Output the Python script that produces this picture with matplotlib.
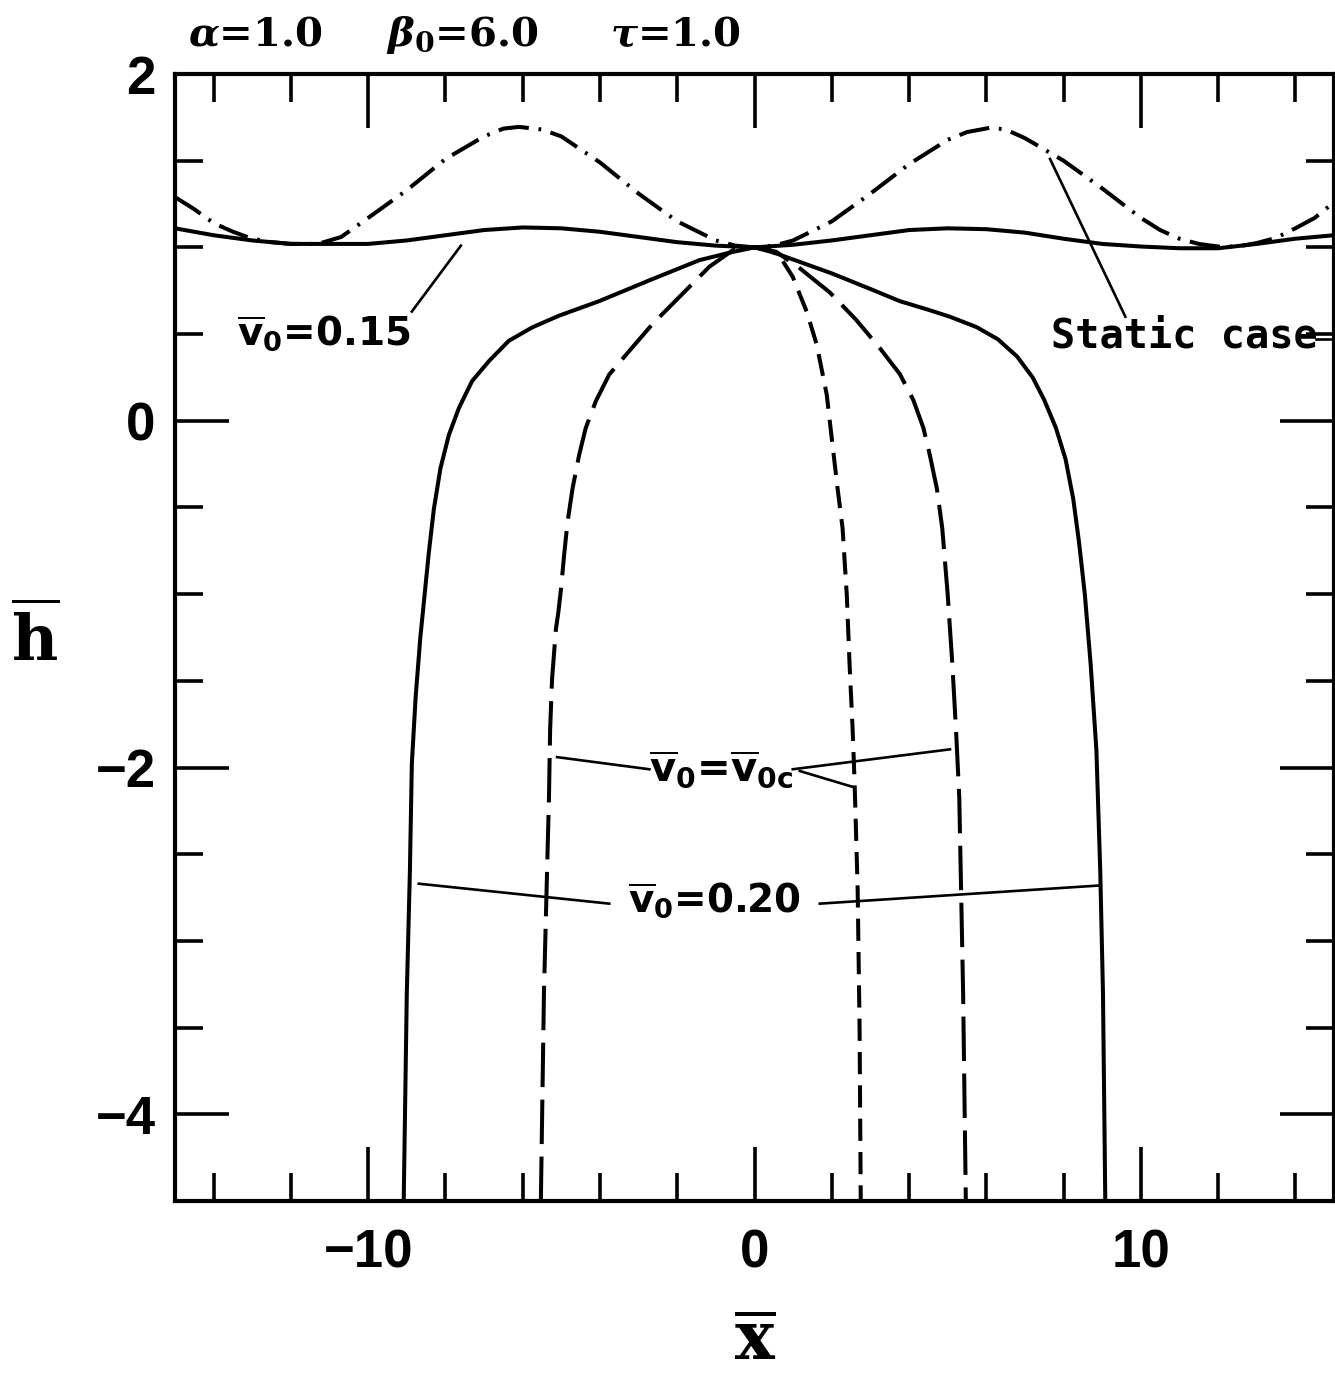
import numpy as np
import matplotlib
matplotlib.use("Agg")
import matplotlib.pyplot as plt
from matplotlib.ticker import MultipleLocator

plt.rcParams['lines.scale_dashes'] = False
plt.rcParams['font.family'] = ['DejaVu Sans']
plt.rcParams['font.weight'] = 'bold'

# ---- profiles h(x) read off the solutions
# static case (dash-dot)
static_x = [-15, -14.5, -14, -13.5, -13, -12.5, -12, -11.3, -10.7, -10, -9, -8, -7, -6.5, -6.1, -5.5, -5, -4,
            -3, -2, -1, -0.5, 0, 0.5, 1, 2, 3, 4, 5, 5.5, 6.1, 6.5, 7, 8, 9, 10, 10.5, 11, 11.5, 12, 12.5, 13,
            13.5, 14, 14.5, 15]
static_y = [1.29, 1.22, 1.14, 1.09, 1.05, 1.03, 1.02, 1.02, 1.06, 1.17, 1.33, 1.51, 1.64, 1.685, 1.695, 1.68,
            1.64, 1.49, 1.31, 1.15, 1.04, 1.01, 1.0, 1.01, 1.04, 1.15, 1.31, 1.48, 1.62, 1.665, 1.69, 1.68,
            1.63, 1.50, 1.34, 1.17, 1.10, 1.05, 1.02, 1.005, 1.005, 1.025, 1.055, 1.11, 1.17, 1.26]

# v0 = 0.15 (solid, nearly flat)
v015_x = list(range(-15, 16))
v015_y = [1.11, 1.07, 1.04, 1.02, 1.02, 1.02, 1.04, 1.07, 1.10, 1.115, 1.11, 1.09, 1.06, 1.03, 1.01, 1.0,
          1.015, 1.04, 1.07, 1.10, 1.11, 1.105, 1.085, 1.05, 1.02, 1.005, 0.995, 0.995, 1.02, 1.05, 1.07]

# v0 = 0.20 (solid)
v020_x = [-9.08, -9.0, -8.92, -8.87, -8.77, -8.65, -8.56, -8.43, -8.30, -8.13, -7.91, -7.65, -7.31, -6.87,
          -6.36, -5.75, -5.06, -4.02, -2.72, -1.43, -0.6, 0,
          0.5, 1.0, 2.0, 3.0, 3.76, 4.5, 5.06, 5.75, 6.3, 6.8, 7.2, 7.5, 7.8, 8.05, 8.25, 8.4, 8.55, 8.7,
          8.85, 8.95, 9.02, 9.08]
v020_y = [-4.5, -3.3, -2.6, -1.98, -1.59, -1.25, -1.05, -0.76, -0.51, -0.275, -0.081, 0.074, 0.229, 0.345,
          0.461, 0.539, 0.606, 0.69, 0.81, 0.926, 0.972, 1.0,
          0.97, 0.93, 0.85, 0.76, 0.69, 0.64, 0.60, 0.54, 0.47, 0.37, 0.25, 0.12, -0.04, -0.22, -0.45, -0.7,
          -1.0, -1.4, -1.9, -2.6, -3.3, -4.5]

# v0 = v0c, symmetric branch (long dashes)
v0c_x = [-5.53, -5.45, -5.32, -5.29, -5.24, -5.14, -5.08, -5.01, -4.93, -4.84, -4.71, -4.54, -4.37, -4.11,
         -3.76, -3.24, -2.64, -1.95, -1.17, -0.56, 0,
         0.56, 1.17, 1.95, 2.64, 3.24, 3.76, 4.11, 4.37, 4.54, 4.72, 4.86, 5.0, 5.12, 5.22, 5.3, 5.4, 5.47]
v0c_y = [-4.5, -3.3, -2.17, -1.78, -1.49, -1.20, -1.109, -0.973, -0.779, -0.585, -0.391, -0.198, -0.043,
         0.112, 0.267, 0.403, 0.558, 0.713, 0.888, 0.984, 1.0,
         0.975, 0.88, 0.74, 0.58, 0.42, 0.27, 0.12, -0.04, -0.2, -0.39, -0.62, -1.0, -1.4, -1.8, -2.17,
         -3.3, -4.5]

# v0 = v0c, one-sided branch (short dashes)
v0c_b_x = [0, 0.35, 0.65, 0.99, 1.35, 1.61, 1.87, 2.02, 2.15, 2.28, 2.39, 2.46, 2.54, 2.59, 2.67, 2.72, 2.75]
v0c_b_y = [1.0, 0.99, 0.95, 0.83, 0.63, 0.44, 0.15, -0.14, -0.39, -0.62, -1.01, -1.40, -1.78, -2.08,
           -2.7, -3.5, -4.5]

fig = plt.figure(figsize=(13.35, 13.74), dpi=100)
ax = fig.add_axes([175/1335, 1 - 1201/1374, (1334-175)/1335, (1201-74)/1374])

lw = 2.9
ax.plot(static_x, static_y, color='k', lw=lw, dashes=[22, 7, 2, 7])
ax.plot(v015_x, v015_y, color='k', lw=lw)
ax.plot(v020_x, v020_y, color='k', lw=lw)
ax.plot(v0c_x, v0c_y, color='k', lw=lw, dashes=[32, 9])
ax.plot(v0c_b_x, v0c_b_y, color='k', lw=lw, dashes=[16, 8])

# leader lines for the labels
leaders = [((-8.87, -7.6), (0.63, 1.01)),
           ((9.6, 7.65), (0.60, 1.51)),
           ((14.53, 15.0), (0.47, 0.47)),
           ((-5.11, -2.72), (-1.94, -2.01)),
           ((0.99, 5.06), (-2.01, -1.895)),
           ((1.17, 2.52), (-2.02, -2.11)),
           ((-8.69, -3.76), (-2.67, -2.785)),
           ((1.69, 8.95), (-2.785, -2.68))]
for lx, ly in leaders:
    ax.plot(lx, ly, color='k', lw=1.9)

v0 = r'$\overline{\mathbf{v}}_{\mathbf{0}}$'
ax.text(-11.15, 0.50, v0 + '=0.15', fontsize=28, ha='center', va='center')
ax.text(11.13, 0.49, 'Static case', fontsize=29, family='DejaVu Sans Mono', ha='center', va='center')
ax.text(-0.87, -2.01, v0 + r'=$\overline{\mathbf{v}}_{\mathbf{0c}}$', fontsize=29,
        ha='center', va='center')
ax.text(-1.04, -2.77, v0 + '=0.20', fontsize=28, ha='center', va='center')

ax.set_xlim(-15, 15)
ax.set_ylim(-4.5, 2)
ax.xaxis.set_major_locator(MultipleLocator(10))
ax.xaxis.set_minor_locator(MultipleLocator(2))
ax.yaxis.set_major_locator(MultipleLocator(2))
ax.yaxis.set_minor_locator(MultipleLocator(0.5))
ax.tick_params(which='both', direction='in', top=True, right=True, width=2.6, labelsize=38,
               labelfontfamily='Liberation Sans')
ax.tick_params(which='major', length=39, pad=14)
ax.tick_params(which='minor', length=20)
ax.tick_params(axis='x', which='major', pad=20)
for s in ax.spines.values():
    s.set_linewidth(3)

fig.text(0.5655, 0.0247, r'$\overline{\mathbf{x}}$', fontsize=48, ha='center', va='center',
         math_fontfamily='dejavuserif')
fig.text(0.0262, 0.534, r'$\overline{\mathbf{h}}$', fontsize=46, ha='center', va='center',
         math_fontfamily='dejavuserif')

hdr = dict(fontsize=29, family='DejaVu Serif', ha='center', va='center', math_fontfamily='dejavuserif')
fig.text(0.191, 0.9745, r'$\boldsymbol{\alpha}$=1.0', **hdr)
fig.text(0.346, 0.9745, r'$\boldsymbol{\beta}_{\mathbf{0}}$=6.0', **hdr)
fig.text(0.506, 0.9745, r'$\boldsymbol{\tau}$=1.0', **hdr)

fig.savefig('out.png', dpi=100)
